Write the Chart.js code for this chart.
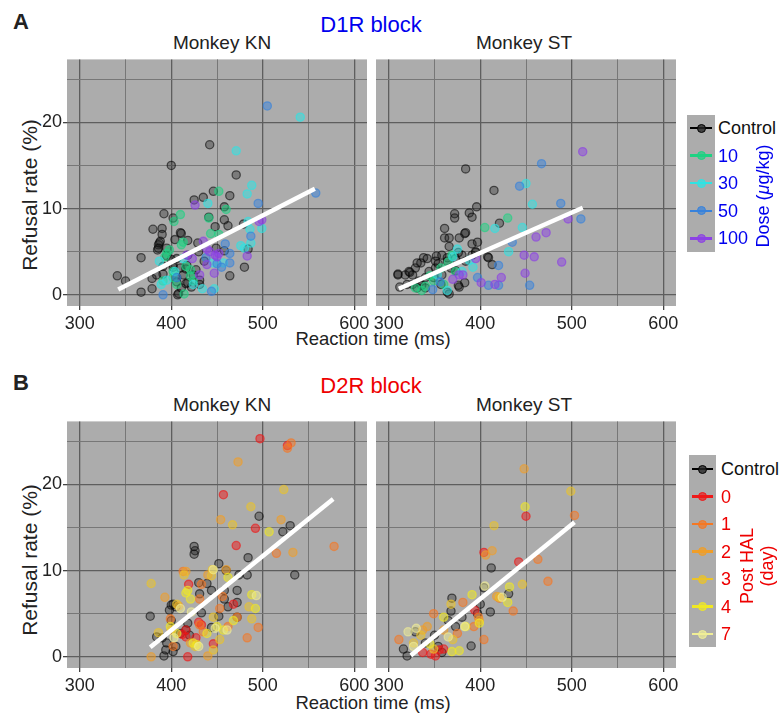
<!DOCTYPE html>
<html><head><meta charset="utf-8">
<script src="https://cdn.jsdelivr.net/npm/chart.js@4"></script>
<style>
body{margin:0;background:#fff;width:783px;height:713px;position:relative;overflow:hidden;font-family:"Liberation Sans",Arial,sans-serif;color:#222;}
.t{position:absolute;transform:translate(-50%,-50%);white-space:nowrap;line-height:1;}
.rot{transform:translate(-50%,-50%) rotate(-90deg);}
.cw{position:absolute;}
.lg{position:absolute;background:#acacac;}
.ll{position:absolute;height:2.5px;}
.ld{position:absolute;width:9px;height:9px;border-radius:50%;}
.lt{position:absolute;font-size:18px;line-height:1;transform:translateY(-50%);white-space:nowrap;}
</style></head><body>

<div class="t" style="left:21px;top:22px;font-size:22px;font-weight:bold;">A</div>
<div class="t" style="left:371px;top:25px;font-size:22px;color:#0000ee;">D1R block</div>
<div class="t" style="left:222px;top:42px;font-size:19px;">Monkey KN</div>
<div class="t" style="left:524px;top:42px;font-size:19px;">Monkey ST</div>
<div class="t" style="left:373px;top:339px;font-size:18.5px;">Reaction time (ms)</div>
<div class="t rot" style="left:29px;top:195px;font-size:21px;">Refusal rate (%)</div>

<div class="t" style="left:21px;top:383px;font-size:22px;font-weight:bold;">B</div>
<div class="t" style="left:371px;top:386px;font-size:22px;color:#ee0000;">D2R block</div>
<div class="t" style="left:222px;top:404px;font-size:19px;">Monkey KN</div>
<div class="t" style="left:524px;top:404px;font-size:19px;">Monkey ST</div>
<div class="t" style="left:373px;top:703px;font-size:18.5px;">Reaction time (ms)</div>
<div class="t rot" style="left:29px;top:560px;font-size:21px;">Refusal rate (%)</div>

<div class="cw" style="left:27px;top:54px;width:350px;height:282px;"><canvas id="aKN"></canvas></div>
<div class="cw" style="left:366px;top:54px;width:320px;height:282px;"><canvas id="aST"></canvas></div>
<div class="cw" style="left:27px;top:416px;width:350px;height:282px;"><canvas id="bKN"></canvas></div>
<div class="cw" style="left:366px;top:416px;width:320px;height:282px;"><canvas id="bST"></canvas></div>

<div id="legends"></div>
<div class="t rot" style="left:763px;top:196px;font-size:18px;color:#0000ee;">Dose (<i>μ</i>g/kg)</div>
<div class="t rot" style="left:757px;top:566px;font-size:18px;line-height:20px;color:#ee0000;text-align:center;">Post HAL<br>(day)</div>

<script>
// ---------- axes ----------
const X_TICKS = [300, 350, 400, 450, 500, 550, 600];
const X_LABELS = [300, 400, 500, 600];
const Y_TICKS = [0, 5, 10, 15, 20, 25];
const Y_LABELS = [0, 10, 20];
const X_RANGE = [286, 614];
const Y_RANGE = [-1.3, 27.3];

// ---------- categories ----------
const D1R_GROUPS = ['Control', '10', '30', '50', '100'];
const D2R_GROUPS = ['Control', '0', '1', '2', '3', '4', '7'];
const D1R_COLORS = ['0,0,0', '30,210,130', '45,228,228', '55,130,220', '140,65,228'];
const D2R_COLORS = ['0,0,0', '238,25,25', '245,120,35', '240,158,40', '235,195,40', '240,232,35', '240,238,150'];

// ---------- D1R block, Monkey KN : [reaction time (ms), refusal rate (%)] ----------
const kn_d1_control = [[442,17.4],[400,15.0],[471,13.9],[446,12.0],[464,11.5],[435,11.3],[425,11.0],[458,10.2],[392,9.4],[402,8.9],[441,9.0],[458,8.7],[462,8.0],[448,7.9],[380,7.6],[390,7.7],[390,7.0],[410,7.2],[404,6.4],[388,6.2],[386,5.8],[385,5.2],[395,5.4],[367,4.3],[341,2.2],[350,1.6],[367,0.3],[379,0.7],[379,1.9],[384,2.3],[391,3.3],[402,3.5],[410,3.1],[413,2.3],[406,2.0],[418,1.4],[411,0.8],[408,0.15],[417,3.4],[424,2.3],[431,1.2],[427,2.9],[436,3.9],[458,5.1],[464,2.2],[480,3.2],[484,5.3],[479,8.2],[430,5.0],[406,4.2],[418,4.6],[395,4.5],[418,6.3],[387,6.0],[386,5.4],[391,2.4],[402,3.2],[416,3.0],[431,1.7],[422,0.9],[407,0.0],[449,5.4],[411,7.1],[429,6.0],[400,4.1],[406,1.5],[416,1.3]];
const kn_d1_10 = [[452,12.0],[410,9.3],[403,8.5],[441,8.9],[460,9.9],[443,7.1],[452,7.0],[413,6.1],[411,5.8],[395,4.8],[393,4.4],[402,2.7],[421,2.9],[421,2.2],[391,1.6],[402,2.0],[414,0.1],[406,1.2],[424,1.6],[398,5.2],[416,3.3]];
const kn_d1_30 = [[541,20.6],[471,16.7],[488,12.7],[483,11.7],[440,10.6],[484,8.5],[499,7.7],[486,7.6],[487,6.0],[476,5.7],[387,3.9],[389,1.2],[395,1.7],[434,0.7],[447,0.7],[446,3.7],[457,3.7],[413,4.2],[424,1.2],[404,2.7],[480,5.4]];
const kn_d1_50 = [[505,21.9],[558,11.8],[495,10.6],[487,6.8],[459,5.9],[464,4.8],[450,3.6],[444,0.4],[391,0.0],[406,2.0],[464,3.7],[438,4.3],[455,3.2]];
const kn_d1_100 = [[426,10.4],[499,8.7],[483,4.5],[439,5.3],[448,4.6],[450,4.4],[435,6.2],[423,4.2],[447,2.5],[439,3.5],[431,2.3],[417,4.6],[442,5.0],[496,8.5],[452,4.8]];
const kn_d1_fit = [[342,0.6],[557,12.3]];

// ---------- D1R block, Monkey ST ----------
const st_d1_control = [[384,14.6],[415,12.1],[396,10.2],[372,9.4],[372,8.9],[388,9.5],[391,9.0],[421,8.3],[361,7.7],[384,7.2],[361,6.6],[366,6.6],[377,6.6],[391,5.9],[397,6.1],[366,5.6],[408,4.4],[413,3.5],[338,4.3],[342,4.2],[352,4.5],[358,4.6],[335,3.7],[329,3.1],[322,2.7],[310,2.3],[318,2.3],[326,2.3],[312,0.9],[320,1.2],[333,1.6],[340,2.0],[344,2.7],[351,3.1],[358,2.3],[357,1.2],[366,0.1],[377,0.9],[383,1.4],[364,3.9],[373,4.2],[380,4.6],[384,3.9],[395,5.0],[326,1.2],[331,0.8],[340,0.8],[351,3.9],[391,4.6],[368,3.1],[383,7.1],[331,3.7],[310,2.4],[323,2.6],[336,1.1],[349,2.0],[354,3.6],[364,4.3],[376,4.9],[373,2.8],[376,1.1],[364,0.3],[395,4.9],[409,4.3]];
const st_d1_10 = [[430,8.9],[405,7.8],[369,4.6],[357,3.1],[336,0.5],[349,1.6],[373,2.7],[329,0.8],[360,1.2],[345,2.2],[365,3.8],[340,1.0]];
const st_d1_30 = [[450,12.9],[457,10.5],[416,7.7],[446,7.8],[431,5.0],[392,3.2],[370,4.4],[364,0.5],[380,2.7],[353,2.3],[375,5.3],[388,4.0]];
const st_d1_50 = [[467,15.2],[443,12.6],[488,10.6],[510,8.8],[435,6.1],[420,3.4],[397,2.0],[409,1.1],[420,1.1],[454,1.1],[348,0.6],[356,1.5]];
const st_d1_100 = [[512,16.6],[496,8.8],[461,6.7],[472,7.2],[448,4.6],[459,4.4],[489,3.8],[449,2.5],[423,2.0],[401,1.4],[416,1.2],[377,2.3],[395,4.2],[381,2.3],[370,1.8]];
const st_d1_fit = [[311,0.7],[512,10.1]];

// ---------- D2R block, Monkey KN ----------
const kn_d2_control = [[496,16.3],[522,14.5],[530,15.2],[425,12.8],[426,12.3],[425,11.9],[484,11.5],[535,9.5],[452,10.8],[460,10.0],[483,9.5],[474,9.5],[430,8.6],[439,8.5],[444,7.7],[472,7.7],[458,6.7],[472,6.3],[462,5.8],[402,6.1],[398,5.4],[377,4.7],[400,4.2],[433,5.1],[452,4.7],[472,4.6],[384,2.3],[395,1.6],[392,0.1],[394,0.8],[405,1.2],[420,2.5],[444,3.4],[418,3.9],[458,7.7],[431,7.3],[402,0.6],[416,3.1],[400,6.0],[405,5.8],[390,2.2],[410,2.7]];
const kn_d2_0 = [[497,25.3],[527,24.5],[457,18.8],[492,14.9],[471,12.9],[419,8.4],[468,6.1],[433,3.7],[416,3.1],[416,2.3],[427,2.2],[446,1.5],[418,0.0],[430,4.0],[412,2.6]];
const kn_d2_1 = [[531,24.8],[578,12.8],[515,12.0],[413,9.9],[433,8.4],[431,6.7],[472,4.6],[431,3.7],[462,3.5],[435,2.9],[495,3.4],[483,2.2],[453,5.6],[399,4.4],[402,1.2],[527,24.2],[456,7.0]];
const kn_d2_2 = [[473,22.6],[520,15.9],[454,15.9],[533,12.1],[393,6.9],[440,9.5],[378,0.0],[440,0.1],[421,1.6],[460,10.1],[400,3.1],[408,5.9],[416,9.9]];
const kn_d2_3 = [[523,19.4],[487,17.4],[467,15.3],[414,9.5],[445,10.1],[485,5.8],[488,4.4],[446,4.6],[386,2.8],[426,1.2],[446,0.8],[453,2.0],[406,6.1],[378,8.5],[444,9.4]];
const kn_d2_4 = [[507,14.5],[462,9.2],[488,7.2],[492,5.6],[418,7.7],[421,6.7],[450,3.5],[457,3.1],[439,2.7],[399,3.5],[406,2.7],[424,1.6],[468,4.2],[428,1.4],[416,7.4]];
const kn_d2_7 = [[493,7.1],[446,10.1],[430,1.2],[461,3.1],[410,5.6],[403,2.2],[448,3.3],[422,5.2]];
const kn_d2_fit = [[377,1.1],[577,18.3]];

// ---------- D2R block, Monkey ST ----------
const st_d2_control = [[412,10.3],[369,6.8],[368,5.3],[404,8.0],[411,5.2],[390,1.25],[320,0.1],[316,0.9],[329,2.9],[373,3.5],[365,4.2],[397,5.0],[354,1.2],[358,0.5],[340,1.6],[380,4.6],[431,7.3],[350,2.5],[400,6.1]];
const st_d2_0 = [[450,16.3],[404,12.1],[442,11.0],[351,0.1],[355,0.8],[337,0.5],[394,5.4],[346,0.3],[360,0.9]];
const st_d2_1 = [[503,16.4],[463,11.3],[474,8.75],[436,5.3],[421,6.8],[404,2.0],[381,6.3],[349,5.0],[311,2.0],[375,2.7],[393,3.5],[398,4.6]];
const st_d2_2 = [[448,21.8],[413,12.3],[406,11.8],[342,3.5],[337,3.1],[360,3.1],[399,4.2],[418,7.0]];
const st_d2_3 = [[499,19.2],[415,15.2],[446,8.4],[421,6.9],[327,1.6],[349,0.9],[368,6.1],[335,2.5],[370,2.0]];
const st_d2_4 = [[449,17.4],[432,8.1],[430,6.3],[391,7.2],[399,3.9],[377,0.7],[369,0.6],[360,4.6],[384,3.5],[345,1.5]];
const st_d2_7 = [[405,8.2],[321,2.9],[327,1.2],[383,3.5],[424,6.9],[365,2.3],[330,3.3]];
const st_d2_fit = [[324,0.15],[503,15.6]];

// ---------- drawing ----------
Chart.defaults.font.family = '"Liberation Sans", Arial, sans-serif';
Chart.defaults.animation = false;

const bgPlugin = {
  id: 'panelBg',
  beforeDraw(chart) {
    const a = chart.chartArea, c = chart.ctx;
    c.save(); c.fillStyle = '#acacac'; c.fillRect(a.left, a.top, a.right - a.left, a.bottom - a.top); c.restore();
  }
};

function toPts(arr) { return arr.map(p => ({x: p[0], y: p[1]})); }

function makeChart(id, seriesList, colors, fit, showY) {
  const datasets = [{
    type: 'line', data: toPts(fit), borderColor: '#ffffff', borderWidth: 4.5,
    pointRadius: 0, fill: false, borderCapStyle: 'butt'
  }];
  for (let i = seriesList.length - 1; i >= 0; i--) {
    const c = colors[i];
    const black = i === 0;
    datasets.push({
      type: 'scatter', data: toPts(seriesList[i]),
      backgroundColor: black ? 'rgba(25,25,25,0.33)' : `rgba(${c},0.5)`,
      borderColor: black ? 'rgba(0,0,0,0.55)' : `rgba(${c},0.62)`,
      borderWidth: 1.3, pointRadius: 4.1, pointHoverRadius: 4.1
    });
  }
  new Chart(document.getElementById(id), {
    type: 'scatter',
    data: {datasets},
    plugins: [bgPlugin],
    options: {
      responsive: true, maintainAspectRatio: false, animation: false,
      layout: {padding: {left: 10, right: 10, top: 0, bottom: 0}},
      plugins: {legend: {display: false}, tooltip: {enabled: false}},
      scales: {
        x: {
          type: 'linear', min: X_RANGE[0], max: X_RANGE[1],
          afterBuildTicks: s => { s.ticks = X_TICKS.map(v => ({value: v})); },
          afterFit: s => { s.height = 30; s.paddingLeft = 0; s.paddingRight = 0; },
          border: {display: false},
          grid: {
            color: c => (c.tick && c.tick.value % 100 === 0) ? '#5e5e5e' : '#777777',
            lineWidth: c => (c.tick && c.tick.value % 100 === 0) ? 1.3 : 1,
            tickLength: 4,
            tickColor: c => (c.tick && c.tick.value % 100 === 0) ? '#444' : 'rgba(0,0,0,0)'
          },
          ticks: {
            autoSkip: false, maxRotation: 0, padding: 3, color: '#222',
            font: {size: 18},
            callback: v => X_LABELS.includes(v) ? String(v) : ''
          }
        },
        y: {
          type: 'linear', min: Y_RANGE[0], max: Y_RANGE[1],
          afterBuildTicks: s => { s.ticks = Y_TICKS.map(v => ({value: v})); },
          afterFit: s => { s.width = showY ? 30 : 0; s.paddingTop = 0; s.paddingBottom = 0; },
          border: {display: false},
          grid: {
            color: c => (c.tick && c.tick.value % 10 === 0) ? '#5e5e5e' : '#777777',
            lineWidth: c => (c.tick && c.tick.value % 10 === 0) ? 1.3 : 1,
            drawTicks: showY, tickLength: 4,
            tickColor: c => (c.tick && c.tick.value % 10 === 0) ? '#444' : 'rgba(0,0,0,0)'
          },
          ticks: {
            display: showY, padding: 1, color: '#222', font: {size: 18},
            callback: v => Y_LABELS.includes(v) ? String(v) : ''
          }
        }
      }
    }
  });
}

makeChart('aKN', [kn_d1_control, kn_d1_10, kn_d1_30, kn_d1_50, kn_d1_100], D1R_COLORS, kn_d1_fit, true);
makeChart('aST', [st_d1_control, st_d1_10, st_d1_30, st_d1_50, st_d1_100], D1R_COLORS, st_d1_fit, false);
makeChart('bKN', [kn_d2_control, kn_d2_0, kn_d2_1, kn_d2_2, kn_d2_3, kn_d2_4, kn_d2_7], D2R_COLORS, kn_d2_fit, true);
makeChart('bST', [st_d2_control, st_d2_0, st_d2_1, st_d2_2, st_d2_3, st_d2_4, st_d2_7], D2R_COLORS, st_d2_fit, false);

// ---------- legends ----------
function makeLegend(groups, colors, box, rowY0, rowStep, labelX, textColor) {
  const root = document.getElementById('legends');
  const b = document.createElement('div');
  b.className = 'lg';
  Object.assign(b.style, {left: box[0] + 'px', top: box[1] + 'px', width: (box[2] - box[0]) + 'px', height: (box[3] - box[1]) + 'px'});
  root.appendChild(b);
  groups.forEach((g, i) => {
    const y = rowY0 + i * rowStep;
    const col = colors[i];
    const line = document.createElement('div');
    line.className = 'll';
    Object.assign(line.style, {left: (box[0] + 3) + 'px', width: (box[2] - box[0] - 6) + 'px', top: (y - 1.25) + 'px', background: i === 0 ? 'rgb(0,0,0)' : `rgb(${col})`});
    root.appendChild(line);
    const dot = document.createElement('div');
    dot.className = 'ld';
    const cx = (box[0] + box[2]) / 2;
    Object.assign(dot.style, {left: (cx - 4.5) + 'px', top: (y - 4.5) + 'px', background: i === 0 ? 'rgba(40,40,40,0.8)' : `rgba(${col},0.7)`, boxSizing: 'border-box', border: i === 0 ? '1.5px solid #000' : `1.5px solid rgb(${col})`});
    root.appendChild(dot);
    const t = document.createElement('div');
    t.className = 'lt';
    t.textContent = g;
    Object.assign(t.style, {left: labelX + 'px', top: y + 'px', color: i === 0 ? '#111' : textColor});
    root.appendChild(t);
  });
}
makeLegend(D1R_GROUPS, D1R_COLORS, [687, 115, 715, 252], 128, 27.6, 718, '#0000ee');
makeLegend(D2R_GROUPS, D2R_COLORS, [689, 455, 716, 647], 469, 27.5, 721, '#ee0000');
</script>
</body></html>
